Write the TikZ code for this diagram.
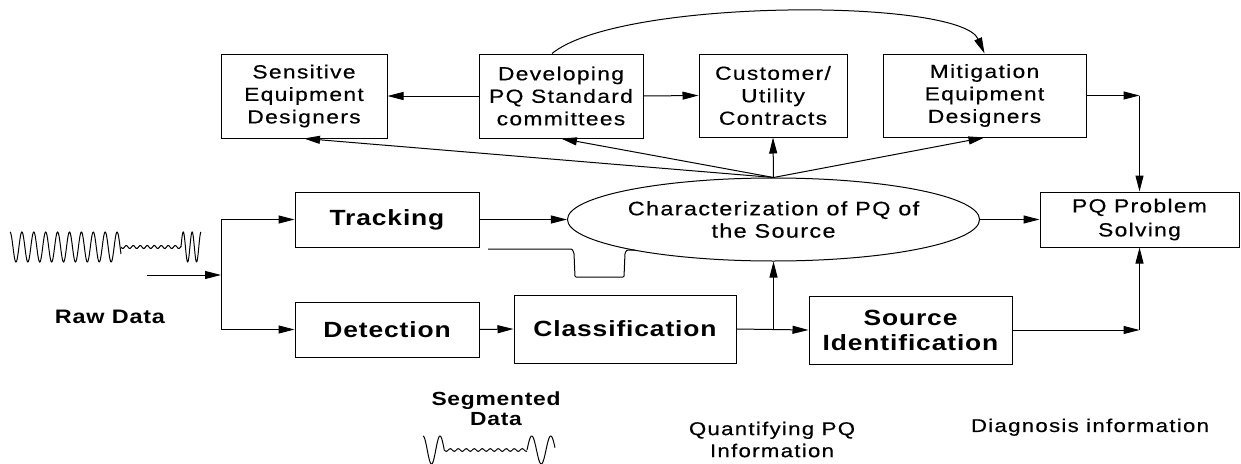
\documentclass[tikz,border=0pt]{standalone}
\usepackage{fontspec}
\setmainfont{Liberation Sans}
\newfontfamily\boxf[FakeStretch=1.2,LetterSpace=7,FakeBold=0.4]{Liberation Sans}
\newfontfamily\boldf[FakeStretch=1.2,LetterSpace=4]{Liberation Sans}
\usetikzlibrary{arrows.meta,shapes.geometric}
\begin{document}
\begin{tikzpicture}[x=1pt,y=-1pt,
  ln/.style={line width=1pt},
  arr/.style={ln,-{Triangle[length=16pt,width=8pt]}},
  topbox/.style={draw,line width=1pt,inner sep=0pt,align=center,
    font=\boxf\fontsize{19}{22.5}\selectfont},
  boldbox/.style={draw,line width=1pt,inner sep=0pt,align=center,
    font=\boldf\bfseries\fontsize{22}{25}\selectfont},
  lbl/.style={inner sep=0pt,align=center,font=\boxf\fontsize{18.5}{22}\selectfont},
  blbl/.style={inner sep=0pt,align=center,font=\boldf\bfseries\fontsize{19}{20}\selectfont},
  wave/.style={line width=1pt,smooth}]
\useasboundingbox (0,0) rectangle (1241,463);
% top row
\node[topbox,minimum width=166pt,minimum height=84pt] (sens) at (304,96) {Sensitive\\Equipment\\Designers};
\node[topbox,minimum width=164pt,minimum height=84pt] (dev) at (561,96) {Developing\\PQ Standard\\committees};
\node[topbox,minimum width=148pt,minimum height=83pt] (cust) at (773,95.5) {Customer/\\Utility\\Contracts};
\node[topbox,minimum width=203pt,minimum height=83pt] (mit) at (984.5,95.5) {Mitigation\\Equipment\\Designers};
% middle
\node[draw,ellipse,line width=1pt,inner sep=0pt,minimum width=313pt,minimum height=83pt,align=center,
  font=\boxf\fontsize{19.5}{22.3}\selectfont] (ell) at (773.5,219.5) {Characterization of PQ of\\the Source};
\node[topbox,minimum width=199pt,minimum height=55pt,font=\boxf\fontsize{19}{24}\selectfont] (pq) at (1139.5,219.5) {PQ Problem\\Solving};
\node[boldbox,minimum width=184pt,minimum height=55pt] (trk) at (387,219.5) {Tracking};
% bottom row
\node[boldbox,minimum width=184pt,minimum height=55pt] (det) at (387,329.5) {Detection};
\node[boldbox,minimum width=222pt,minimum height=68pt] (cls) at (625,329) {Classification};
\node[boldbox,minimum width=203pt,minimum height=68pt] (src) at (910.5,330) {Source\\Identification};
% labels
\node[blbl,font=\boldf\bfseries\fontsize{19.5}{20}\selectfont] (rawlbl) at (110,316.5) {Raw Data};
\node[blbl] (seglbl) at (496,408.5) {Segmented\\Data};
\node[lbl] (qlbl) at (772,439.5) {Quantifying PQ\\Information};
\node[lbl] (dlbl) at (1090,427.2) {Diagnosis information};
% coordinates
\coordinate (rawin) at (147,275);
\coordinate (split) at (221,275);
\coordinate (sp1) at (split |- trk.west);
\coordinate (sp2) at (split |- det.west);
\coordinate (br) at (ell.south |- cls.east);
\coordinate (c1) at (pq.north |- mit.east);
\coordinate (c2) at (pq.south |- src.east);
% connectors
\draw[arr] (dev.west) -- (sens.east);
\draw[arr] (dev.east) -- (cust.west);
\draw[arr] (dev.north) ++(-9,0) .. controls (620,-2) and (960,-2) .. (mit.north);
\draw[arr] (ell.north) -- (sens.south);
\draw[arr] (ell.north) -- (dev.south);
\draw[arr] (ell.north) -- (cust.south);
\draw[arr] (ell.north) -- (mit.south);
\draw[arr] (mit.east) -- (c1);
\draw[arr] (c1) -- (pq.north);
\draw[arr] (ell.east) -- (pq.west);
\draw[arr] (trk.east) -- (ell.west);
\draw[arr] (rawin) -- (split);
\draw[ln] (sp1) -- (sp2);
\draw[arr] (sp1) -- (trk.west);
\draw[arr] (sp2) -- (det.west);
\draw[arr] (det.east) -- (cls.west);
\draw[arr] (cls.east) -- (src.west);
\draw[arr] (br) -- (ell.south);
\draw[arr] (src.east) -- (c2);
\draw[arr] (c2) -- (pq.south);
% step signal (tracking output)
\draw[ln,rounded corners=1pt] (488,249) -- (572,249) -- (574,253) -- (575,277) -- (624,277) -- (625,253) -- (627,250) -- (635,250);
% raw data waveform
\draw[wave] plot[domain=10:121,samples=300] (\x,{247-15*cos(30.2521*(\x-10))});
\draw[wave] plot[domain=121:181,samples=120] (\x,{247+1.5*sin(51.4286*(\x-121))});
\draw[wave] plot[domain=181:201,samples=80] (\x,{247-15*sin(40.4494*(\x-181))});
% segmented waveform
\begin{scope}
\clip (400,430) rectangle (570,463);
\draw[wave] plot[domain=423:444.25,samples=80] (\x,{450-14*cos(21.1765*(\x-423))});
\draw[wave] plot[domain=444.25:527,samples=150] (\x,{450+1.3*sin(45*(\x-444.25))});
\draw[wave] plot[domain=527:555,samples=100] (\x,{450-14*sin(18.9474*(\x-527))});
\end{scope}
\end{tikzpicture}
\end{document}
